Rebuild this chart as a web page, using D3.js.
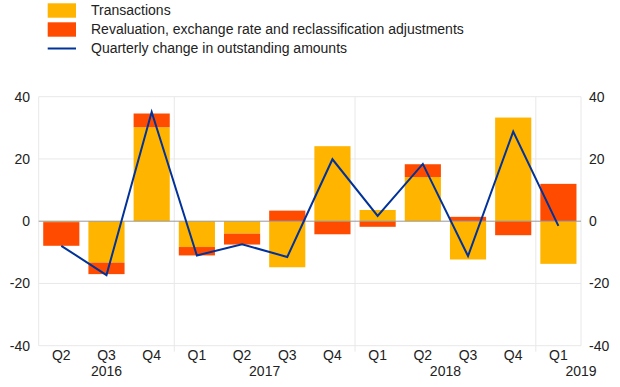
<!DOCTYPE html>
<html><head><meta charset="utf-8">
<script src="https://cdn.jsdelivr.net/npm/d3@7"></script>
<style>body{margin:0;background:#fff}svg{display:block;font-family:"Liberation Sans",Arial,sans-serif}</style>
</head><body><svg id="c" width="620" height="387"></svg>
<script>
const quarters = ["Q2","Q3","Q4","Q1","Q2","Q3","Q4","Q1","Q2","Q3","Q4","Q1"];
const years = ["2016","2016","2016","2017","2017","2017","2017","2018","2018","2018","2018","2019"];
const transactions = [-0.3,-13.3,30.2,-8.3,-4.0,-14.8,24.1,3.6,14.2,-12.3,33.3,-13.7];
const revaluation = [-7.6,-3.7,4.4,-2.7,-3.5,3.4,-4.2,-1.8,4.1,1.4,-4.5,12.0];
const quarterlyChange = [-7.9,-17.3,35.1,-11.0,-7.4,-11.5,19.9,1.7,18.4,-11.2,28.8,-1.5];
const yTicks = [-40,-20,0,20,40];
const legendLabels = ["Transactions","Revaluation, exchange rate and reclassification adjustments","Quarterly change in outstanding amounts"];
const colors = {trans:"#FFB400", reval:"#FF4B00", line:"#003299"};

const svg = d3.select("#c");
const L = 38.7, R = 581, T = 96.7, B = 345.7;
const idx = d3.range(quarters.length);
const x = d3.scaleBand().domain(idx).range([L,R]).paddingInner(0.2).paddingOuter(0.1);
const y = d3.scaleLinear().domain([-40,40]).range([B,T]);

// grid
svg.append("g").selectAll("line").data(yTicks.filter(d=>d!==0)).join("line")
  .attr("x1",L).attr("x2",R).attr("y1",d=>y(d)).attr("y2",d=>y(d))
  .attr("stroke","#e8e8e8").attr("stroke-width",1);
// borders left/right
svg.append("line").attr("x1",L).attr("x2",L).attr("y1",T).attr("y2",B).attr("stroke","#e8e8e8");
svg.append("line").attr("x1",R).attr("x2",R).attr("y1",T).attr("y2",B).attr("stroke","#e8e8e8");
// year separators
const seps = idx.filter(i=>i>0 && years[i]!==years[i-1]);
svg.append("g").selectAll("line").data(seps).join("line")
  .attr("x1",i=>x(i)-x.step()*x.paddingInner()/2).attr("x2",i=>x(i)-x.step()*x.paddingInner()/2)
  .attr("y1",T).attr("y2",B+6).attr("stroke","#e8e8e8");

// stacked bars (diverging)
const rows = idx.map(i=>{
  const t = transactions[i], r = revaluation[i];
  const tb = [Math.min(0,t), Math.max(0,t)];
  let rb;
  if ((r>=0) === (t>=0)) rb = r>=0 ? [t, t+r] : [t+r, t];
  else rb = r>=0 ? [0, r] : [r, 0];
  return {i, tb, rb};
});
svg.append("g").selectAll("rect").data(rows).join("rect")
  .attr("x",d=>x(d.i)).attr("width",x.bandwidth())
  .attr("y",d=>y(d.tb[1])).attr("height",d=>y(d.tb[0])-y(d.tb[1]))
  .attr("fill",colors.trans);
svg.append("g").selectAll("rect").data(rows).join("rect")
  .attr("x",d=>x(d.i)).attr("width",x.bandwidth())
  .attr("y",d=>y(d.rb[1])).attr("height",d=>y(d.rb[0])-y(d.rb[1]))
  .attr("fill",colors.reval);

// zero line
svg.append("line").attr("x1",L).attr("x2",R).attr("y1",y(0)).attr("y2",y(0)).attr("stroke","#999").attr("stroke-width",1);

// line
svg.append("path").datum(idx)
  .attr("d",d3.line().x(i=>x(i)+x.bandwidth()/2).y(i=>y(quarterlyChange[i])))
  .attr("fill","none").attr("stroke",colors.line).attr("stroke-width",2).attr("stroke-linejoin","miter");

// y axis labels
const tf = "14px";
svg.append("g").selectAll("text").data(yTicks).join("text")
  .attr("x",30).attr("y",d=>y(d)).attr("dy","0.35em").attr("text-anchor","end")
  .attr("font-size",tf).attr("fill","#222").text(d=>d);
svg.append("g").selectAll("text").data(yTicks).join("text")
  .attr("x",589).attr("y",d=>y(d)).attr("dy","0.35em").attr("text-anchor","start")
  .attr("font-size",tf).attr("fill","#222").text(d=>d);

// x labels
svg.append("g").selectAll("text").data(idx).join("text")
  .attr("x",i=>x(i)+x.bandwidth()/2).attr("y",355).attr("dy","0.35em").attr("text-anchor","middle")
  .attr("font-size",tf).attr("fill","#222").text(i=>quarters[i]);
const yearNames = Array.from(new Set(years));
svg.append("g").selectAll("text").data(yearNames).join("text")
  .attr("x",yr=>{
    const ii = idx.filter(i=>years[i]===yr);
    if (ii.length===1) return R;
    return (x(ii[0])+x(ii[ii.length-1]))/2 + x.bandwidth()/2;
  })
  .attr("y",371).attr("dy","0.35em").attr("text-anchor","middle")
  .attr("font-size",tf).attr("fill","#222").text(d=>d);

// legend
const lg = svg.append("g");
legendLabels.forEach((lab,k)=>{
  const cy = 10.5 + k*19;
  if (k<2) lg.append("rect").attr("x",47.7).attr("y",cy-7.2).attr("width",28.3).attr("height",14.4).attr("fill",k===0?colors.trans:colors.reval);
  else lg.append("line").attr("x1",47.7).attr("x2",76).attr("y1",cy).attr("y2",cy).attr("stroke",colors.line).attr("stroke-width",2);
  lg.append("text").attr("x",91).attr("y",cy).attr("dy","0.35em").attr("font-size",tf).attr("fill","#222").text(lab);
});
</script></body></html>
